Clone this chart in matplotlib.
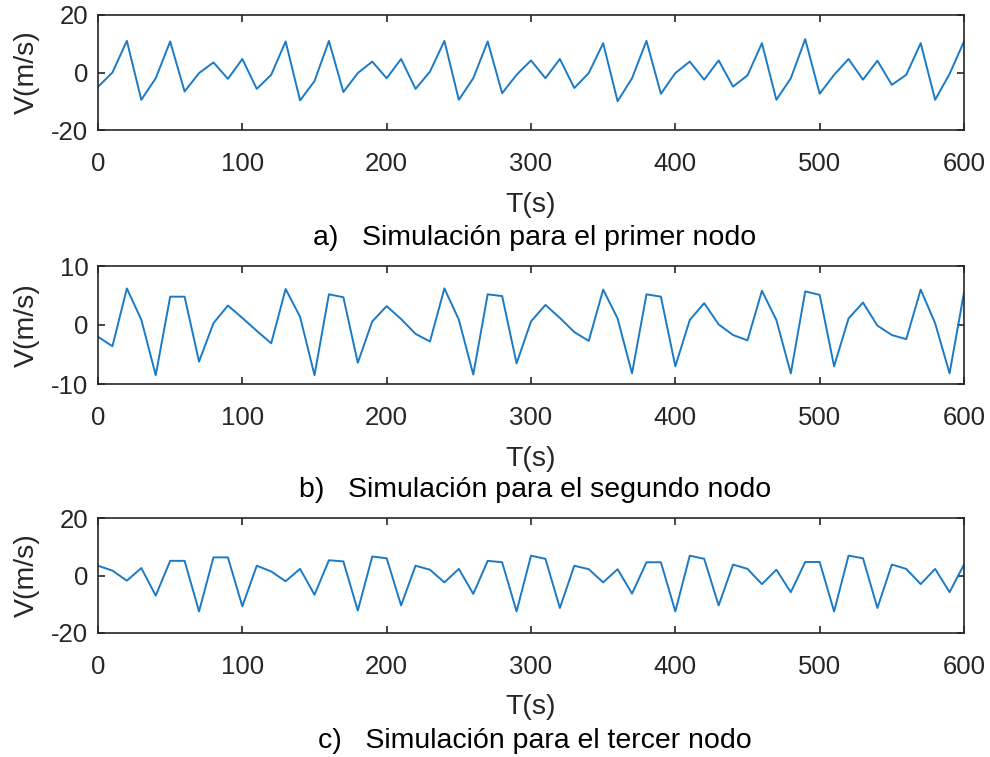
import numpy as np
import matplotlib
matplotlib.use("Agg")
import matplotlib.pyplot as plt

plt.rcParams["font.family"] = ["Liberation Sans", "DejaVu Sans"]
plt.rcParams["axes.unicode_minus"] = False

# tiempo de simulación, muestreo cada 10 s
t = np.arange(0, 601, 10)

v_nodo1 = [
    -5, 0, 11, -9.5, -2, 10.8, -6.6, -0.2, 3.5, -2.2,
    4.7, -5.7, -0.8, 10.8, -9.7, -3, 11, -6.8, -0.2, 3.8,
    -2, 4.7, -5.7, 0.3, 11, -9.5, -2, 10.8, -7.2, -0.8,
    4.2, -2, 4.7, -5.4, -0.2, 10.2, -10, -2, 11, -7.4,
    -0.2, 3.8, -2.5, 4.2, -4.9, -1, 10.2, -9.5, -2, 11.6,
    -7.4, -0.8, 4.7, -2.5, 4.1, -4.3, -0.8, 10.2, -9.5, -0.5,
    10.8,
]

v_nodo2 = [
    -2, -3.6, 6.2, 0.9, -8.5, 4.8, 4.8, -6.2, 0.3, 3.3,
    1.2, -1.0, -3.1, 6.1, 1.4, -8.5, 5.2, 4.7, -6.4, 0.6,
    3.2, 1.0, -1.5, -2.8, 6.2, 0.9, -8.4, 5.2, 4.9, -6.5,
    0.6, 3.4, 1.2, -1.2, -2.7, 6.0, 1.1, -8.2, 5.2, 4.8,
    -7.0, 0.85, 3.7, 0.1, -1.7, -2.6, 5.8, 0.85, -8.2, 5.7,
    5.1, -7.0, 1.1, 3.8, -0.1, -1.7, -2.4, 6.0, 0.3, -8.2,
    5.5,
]

v_nodo3 = [
    3.4, 1.7, -1.8, 2.6, -7, 5.1, 5.1, -12.5, 6.3, 6.3,
    -10.7, 3.4, 1.4, -2, 2.3, -6.7, 5.3, 4.9, -12.2, 6.6,
    6.0, -10.4, 3.4, 2.0, -2.4, 2.3, -6.4, 5.1, 4.6, -12.5,
    6.9, 5.8, -11.3, 3.4, 2.2, -2.4, 2.2, -6.3, 4.6, 4.6,
    -12.5, 6.9, 5.8, -10.4, 3.8, 2.3, -3, 2.0, -5.8, 4.7,
    4.7, -12.5, 6.9, 6.0, -11.3, 3.8, 2.3, -3, 2.3, -5.8,
    3.8,
]

series = [v_nodo1, v_nodo2, v_nodo3]
y_limits = [(-20, 20), (-10, 10), (-20, 20)]
y_ticks = [[-20, 0, 20], [-10, 0, 10], [-20, 0, 20]]
captions = [
    "a)   Simulación para el primer nodo",
    "b)   Simulación para el segundo nodo",
    "c)   Simulación para el tercer nodo",
]

W, H = 990, 757
# (arriba, abajo) de cada eje en píxeles
boxes = [(15, 130), (266, 384), (518, 633)]
caption_y = [238, 490, 741]
left_px, right_px = 98, 964

AXIS_COLOR = "#262626"
LINE_COLOR = "#1a7ac6"

fig = plt.figure(figsize=(W / 100, H / 100), dpi=100)

for i in range(3):
    top, bottom = boxes[i]
    ax = fig.add_axes([
        left_px / W,
        1 - bottom / H,
        (right_px - left_px) / W,
        (bottom - top) / H,
    ])
    ax.plot(t, series[i], color=LINE_COLOR, lw=1.4)
    ax.set_xlim(0, 600)
    ax.set_ylim(*y_limits[i])
    ax.set_xticks(range(0, 601, 100))
    ax.set_yticks(y_ticks[i])
    ax.tick_params(direction="in", top=True, right=True, length=5,
                   width=1.2, colors=AXIS_COLOR, labelsize=18.5)
    ax.tick_params(axis="x", pad=16)
    ax.tick_params(axis="y", pad=7)
    for spine in ax.spines.values():
        spine.set_color(AXIS_COLOR)
        spine.set_linewidth(1.2)
    ax.set_xlabel("T(s)", fontsize=20.5, color=AXIS_COLOR, labelpad=11)
    ax.set_ylabel("V(m/s)", fontsize=20.5, color=AXIS_COLOR, labelpad=8)

    fig.text(535 / W, 1 - caption_y[i] / H, captions[i], fontsize=20.5,
             ha="center", va="center", color="black")

fig.savefig("out.png", dpi=100)
